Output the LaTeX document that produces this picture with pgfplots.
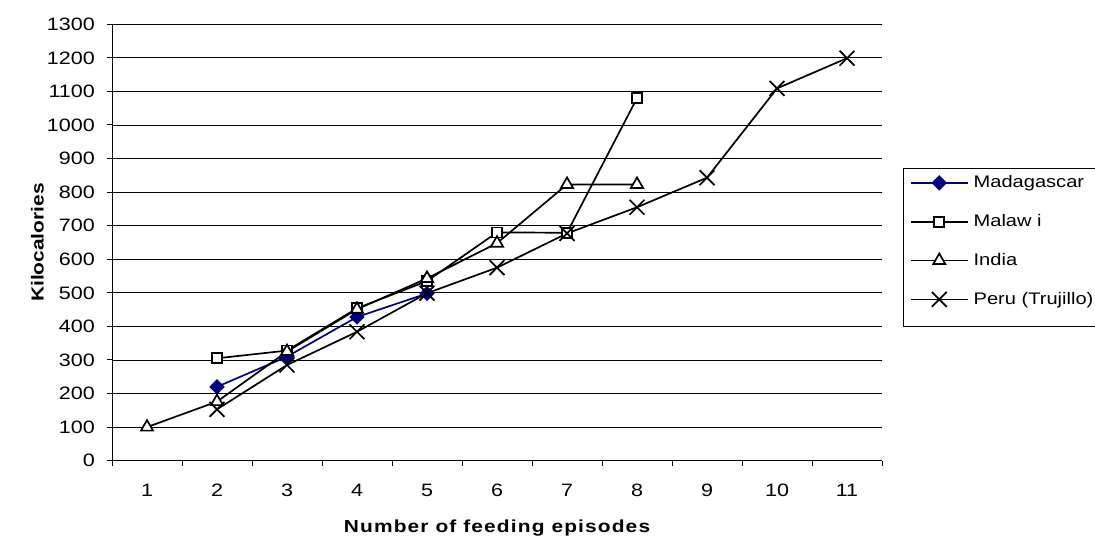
\documentclass[border=0pt]{standalone}
\usepackage{fontspec}
\setmainfont{Liberation Sans}[FakeStretch=1.2]
\usepackage{pgfplots}
\pgfplotsset{compat=1.18}
\definecolor{madaBlue}{RGB}{0,0,128}

\begin{document}
\fontsize{18}{21}\selectfont
\begin{tikzpicture}[x=1bp,y=1bp]
\useasboundingbox (0,0) rectangle (1095,546);
\begin{axis}[
  at={(112bp,85.3bp)}, anchor=south west,
  scale only axis, width=770bp, height=436.4bp,
  xmin=0.5, xmax=11.5, ymin=0, ymax=1300,
  axis x line*=bottom, axis y line*=left,
  axis line style={black, line width=1bp},
  xtick={0.5,1.5,...,11.5},
  x tick label as interval,
  xticklabels={1,2,3,4,5,6,7,8,9,10,11},
  ytick distance=100,
  tick align=outside, major tick length=5bp,
  tick style={black, line width=1bp},
  ymajorgrids, major grid style={black, line width=0.9bp},
  /pgf/number format/1000 sep={},
  /pgf/number format/assume math mode=true,
  ticklabel style={font=\fontsize{18}{21}\selectfont},
  yticklabel style={xshift=-6bp},
  xticklabel style={yshift=-12bp},
  xlabel={\bfseries\addfontfeatures{LetterSpace=6.5}Number of feeding episodes},
  ylabel={\bfseries Kilocalories},
  label style={font=\fontsize{17.5}{21}\selectfont},
  xlabel style={at={(axis description cs:0.5,0)}, anchor=base, yshift=-72.3bp},
  ylabel style={at={(axis description cs:-0.0888,0.5)}, anchor=base},
  legend style={at={(axis description cs:1.0273,0.670)}, anchor=north west,
    draw=none, font=\fontsize{16.8}{20}\selectfont,
    inner xsep=6.7bp, inner ysep=7bp, row sep=24bp,
    nodes={inner sep=0bp}, column sep=5bp},
  legend cell align=left,
  legend image code/.code={%
    \draw[mark repeat=2,mark phase=2,#1] plot coordinates {(0bp,0bp) (28.5bp,0bp) (57bp,0bp)};},
  every axis plot/.append style={line width=1.7bp},
]
\addplot[madaBlue, mark=square*, mark size=4.6bp, mark options={rotate=45, fill=madaBlue}]
  coordinates {(2,220) (3,310) (4,428) (5,498)};
\addlegendentry{Madagascar}
\addplot[black, mark=square*, mark size=5bp, mark options={fill=white}]
  coordinates {(2,305) (3,328) (4,454) (5,535) (6,680) (7,679) (8,1080)};
\addlegendentry{Malaw i}
\addplot[black, mark=triangle*, mark size=7bp, mark options={fill=white}]
  coordinates {(1,100) (2,176) (3,325) (4,451) (5,543) (6,648) (7,823) (8,823)};
\addlegendentry{India}
\addplot[black, mark=x, mark size=10.5bp]
  coordinates {(2,153) (3,285) (4,384) (5,499) (6,575) (7,677) (8,755) (9,843) (10,1109) (11,1199)};
\addlegendentry{Peru (Trujillo)}
\end{axis}
% frame around the legend, running off the right edge of the page
\draw[black, line width=1bp] (903.3,377.7) rectangle (1110,219.3);
\end{tikzpicture}
\end{document}
